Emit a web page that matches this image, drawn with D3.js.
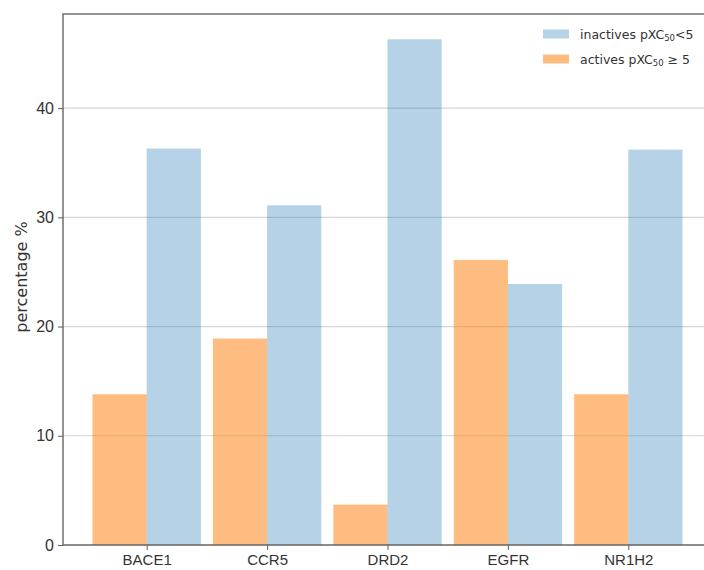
<!DOCTYPE html>
<html>
<head>
<meta charset="utf-8">
<script src="https://cdn.jsdelivr.net/npm/d3@7"></script>
<style>
  html, body { margin: 0; padding: 0; background: #fff; overflow: hidden; }
  svg { display: block; font-family: "DejaVu Sans", sans-serif; }
</style>
</head>
<body>
<svg id="chart" width="704" height="570"></svg>
<script>
// Share of compounds per target, split by activity class
const targets = ["BACE1", "CCR5", "DRD2", "EGFR", "NR1H2"];
const activesPct = [13.8, 18.9, 3.7, 26.1, 13.8];
const inactivesPct = [36.3, 31.1, 46.3, 23.9, 36.2];
const yTicks = [0, 10, 20, 30, 40];

const svg = d3.select("#chart");
const plotL = 63, plotR = 712, plotT = 14, plotB = 545;
const barW = 0.45;

// bars sit at [i - 0.45, i] and [i, i + 0.45]; 5% padding each side
const x = d3.scaleLinear().domain([-0.695, 4.695]).range([plotL, plotR]);
const yMax = d3.max(inactivesPct.concat(activesPct)) * 1.05;
const y = d3.scaleLinear().domain([0, yMax]).range([plotB, plotT]);

// horizontal grid
svg.append("g")
  .selectAll("line")
  .data(yTicks)
  .join("line")
  .attr("x1", plotL).attr("x2", plotR)
  .attr("y1", d => y(d)).attr("y2", d => y(d))
  .attr("stroke", "#d6d6d6").attr("stroke-width", 1.2);

const idx = d3.range(targets.length);

// actives (left of the tick)
svg.append("g")
  .selectAll("rect")
  .data(idx)
  .join("rect")
  .attr("x", i => x(i - barW))
  .attr("width", i => x(i) - x(i - barW))
  .attr("y", i => y(activesPct[i]))
  .attr("height", i => y(0) - y(activesPct[i]))
  .attr("fill", "#ff7f0e").attr("fill-opacity", 0.52);

// inactives (right of the tick)
svg.append("g")
  .selectAll("rect")
  .data(idx)
  .join("rect")
  .attr("x", i => x(i))
  .attr("width", i => x(i + barW) - x(i))
  .attr("y", i => y(inactivesPct[i]))
  .attr("height", i => y(0) - y(inactivesPct[i]))
  .attr("fill", "#1f77b4").attr("fill-opacity", 0.33);

// frame
const frameColor = "#5a5a5a";
svg.append("rect")
  .attr("x", plotL).attr("y", plotT)
  .attr("width", plotR - plotL).attr("height", plotB - plotT)
  .attr("fill", "none").attr("stroke", frameColor).attr("stroke-width", 1.3);

// axes
const yAxis = d3.axisLeft(y).tickValues(yTicks).tickSize(5).tickPadding(4).tickFormat(d3.format("d"));
const gy = svg.append("g").attr("transform", `translate(${plotL},0)`).call(yAxis);
gy.select(".domain").remove();
gy.selectAll("line").attr("stroke", frameColor);
gy.selectAll("text").attr("font-size", 16).attr("fill", "#333");

const xAxis = d3.axisBottom(x).tickValues(idx).tickSize(5).tickPadding(4).tickFormat(i => targets[i]);
const gx = svg.append("g").attr("transform", `translate(0,${plotB})`).call(xAxis);
gx.select(".domain").remove();
gx.selectAll("line").attr("stroke", frameColor);
gx.selectAll("text").attr("font-size", 15).attr("fill", "#333");

// y label
svg.append("text")
  .attr("transform", `translate(27,${277}) rotate(-90)`)
  .attr("text-anchor", "middle")
  .attr("font-size", 16).attr("fill", "#333")
  .text("percentage %");

// legend
const legend = [
  { color: "#1f77b4", op: 0.33, label: "inactives pXC", tail: "<5" },
  { color: "#ff7f0e", op: 0.52, label: "actives pXC", tail: " \u2265 5" }
];
const lg = svg.append("g").attr("transform", "translate(543,29.5)");
legend.forEach((d, k) => {
  const row = lg.append("g").attr("transform", `translate(0,${k * 25})`);
  row.append("rect").attr("x", 0).attr("y", 0).attr("width", 26).attr("height", 9)
    .attr("fill", d.color).attr("fill-opacity", d.op);
  const t = row.append("text").attr("x", 37).attr("y", 9)
    .attr("font-size", 12.5).attr("fill", "#333");
  t.append("tspan").text(d.label);
  t.append("tspan").attr("font-size", 8.5).attr("dy", 2).text("50");
  t.append("tspan").attr("dy", -2).text(d.tail);
});
</script>
</body>
</html>
